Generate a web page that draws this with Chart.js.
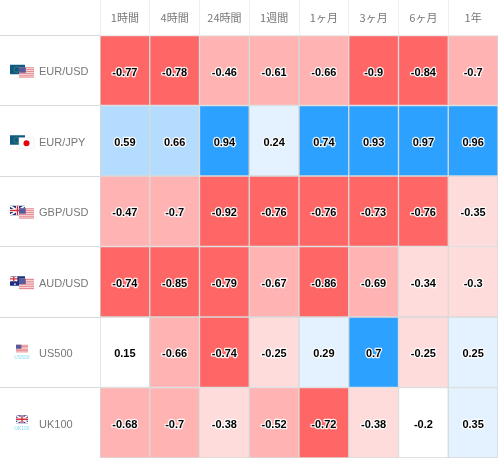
<!DOCTYPE html>
<html>
<head>
<meta charset="utf-8">
<script src="https://cdn.jsdelivr.net/npm/chart.js@4/dist/chart.umd.min.js"></script>
<style>
html,body{margin:0;padding:0;background:#fff;overflow:hidden;}
canvas{display:block;}
</style>
</head>
<body>
<canvas id="heat" width="498" height="458"></canvas>
<script>
const periods = ['1時間', '4時間', '24時間', '1週間', '1ヶ月', '3ヶ月', '6ヶ月', '1年'];
const pairs = ['EUR/USD', 'EUR/JPY', 'GBP/USD', 'AUD/USD', 'US500', 'UK100'];

const eurUsd = [-0.77, -0.78, -0.46, -0.61, -0.66, -0.9, -0.84, -0.7];
const eurJpy = [0.59, 0.66, 0.94, 0.24, 0.74, 0.93, 0.97, 0.96];
const gbpUsd = [-0.47, -0.7, -0.92, -0.76, -0.76, -0.73, -0.76, -0.35];
const audUsd = [-0.74, -0.85, -0.79, -0.67, -0.86, -0.69, -0.34, -0.3];
const us500 = [0.15, -0.66, -0.74, -0.25, 0.29, 0.7, -0.25, 0.25];
const uk100 = [-0.68, -0.7, -0.38, -0.52, -0.72, -0.38, -0.2, 0.35];

const rows = [eurUsd, eurJpy, gbpUsd, audUsd, us500, uk100];

function cellColor(v) {
  if (v >= 0.7) return '#2da1ff';
  if (v >= 0.4) return '#b3dcff';
  if (v > 0.2) return '#e3f2fe';
  if (v >= -0.2) return '#ffffff';
  if (v > -0.4) return '#ffdcdc';
  if (v >= -0.7) return '#ffb3b3';
  return '#ff6666';
}

// little flags in the left gutter, drawn around the row centre
function usFlag(c, x, y, w, h) {
  c.fillStyle = '#fff';
  c.fillRect(x, y, w, h);
  c.fillStyle = '#e58a8f';
  for (let i = 0; i < 6; i++) c.fillRect(x, y + i * h / 6, w, h / 12 + 0.3);
  c.fillStyle = '#5a5a9a';
  c.fillRect(x, y, w * 0.45, h * 0.5);
}
function euFlag(c, x, y, w, h) {
  c.fillStyle = '#0f5a85';
  c.fillRect(x, y, w, h);
  c.strokeStyle = '#4d8a55';
  c.lineWidth = 0.7;
  c.beginPath();
  c.arc(x + w * 0.45, y + h * 0.5, h * 0.3, 0, Math.PI * 2);
  c.stroke();
}
function jpFlag(c, x, y, w, h) {
  c.fillStyle = '#fff';
  c.fillRect(x, y, w, h);
  c.strokeStyle = '#e8e8e8';
  c.lineWidth = 0.5;
  c.strokeRect(x, y, w, h);
  c.fillStyle = '#e8000c';
  c.beginPath();
  c.arc(x + w / 2, y + h / 2, 3, 0, Math.PI * 2);
  c.fill();
}
function ukFlag(c, x, y, w, h) {
  c.fillStyle = '#2a3580';
  c.fillRect(x, y, w, h);
  c.save();
  c.beginPath();
  c.rect(x, y, w, h);
  c.clip();
  c.strokeStyle = '#fff';
  c.lineWidth = 1.6;
  c.beginPath();
  c.moveTo(x, y); c.lineTo(x + w, y + h);
  c.moveTo(x + w, y); c.lineTo(x, y + h);
  c.stroke();
  c.lineWidth = 3;
  c.beginPath();
  c.moveTo(x + w / 2, y); c.lineTo(x + w / 2, y + h);
  c.moveTo(x, y + h / 2); c.lineTo(x + w, y + h / 2);
  c.stroke();
  c.strokeStyle = '#d8303a';
  c.lineWidth = 1.4;
  c.stroke();
  c.restore();
}
function auFlag(c, x, y, w, h) {
  c.fillStyle = '#1c2f7c';
  c.fillRect(x, y, w, h);
  ukFlag(c, x, y, w * 0.5, h * 0.55);
  c.fillStyle = '#fff';
  c.fillRect(x + w * 0.7, y + h * 0.3, 1, 1);
  c.fillRect(x + w * 0.8, y + h * 0.6, 1, 1);
  c.fillRect(x + w * 0.28, y + h * 0.75, 1.5, 1.5);
}

const flagDraw = [
  [euFlag, usFlag],
  [euFlag, jpFlag],
  [ukFlag, usFlag],
  [auFlag, usFlag],
  [usFlag, null],
  [ukFlag, null]
];

const extras = {
  id: 'extras',
  afterDatasetsDraw(chart) {
    const c = chart.ctx;
    // value labels with a white halo
    c.save();
    c.font = 'bold 11px "Liberation Sans", Arial, sans-serif';
    c.textAlign = 'center';
    c.textBaseline = 'middle';
    c.lineJoin = 'round';
    rows.forEach((row, r) => {
      const bars = chart.getDatasetMeta(r).data;
      row.forEach((v, i) => {
        const mid = (bars[i].y + bars[i].base) / 2 + 2;
        c.strokeStyle = 'rgba(255,255,255,0.9)';
        c.lineWidth = 2.5;
        c.strokeText(String(v), bars[i].x, mid);
        c.fillStyle = '#000';
        c.fillText(String(v), bars[i].x, mid);
      });
    });
    c.restore();
  },
  afterDraw(chart) {
    const c = chart.ctx;
    const yScale = chart.scales.y;
    c.save();
    flagDraw.forEach((f, r) => {
      const mid = yScale.getPixelForValue(r + 0.5);
      if (f[1]) {
        f[0](c, 10, mid - 5.5, 15, 9.5);
        f[1](c, 19, mid - 3, 15, 11);
      } else {
        f[0](c, 16, mid - 7.5, 12, 8);
        c.fillStyle = '#7fdcf5';
        c.font = '5px "Liberation Sans", Arial, sans-serif';
        c.textAlign = 'center';
        c.textBaseline = 'middle';
        c.fillText(pairs[r], 22, mid + 5.5);
      }
    });
    c.restore();
  }
};

const datasets = rows.map((row, r) => ({
  label: pairs[r],
  data: row.map(() => [r, r + 1]),
  backgroundColor: row.map(cellColor),
  borderColor: '#d9d9d9',
  borderWidth: 1,
  borderSkipped: false,
  barPercentage: 1,
  categoryPercentage: 1,
  grouped: false
}));

new Chart(document.getElementById('heat').getContext('2d'), {
  type: 'bar',
  data: { labels: periods, datasets: datasets },
  plugins: [extras],
  options: {
    responsive: false,
    animation: false,
    layout: { padding: { left: 39, right: 0, top: 0, bottom: 0 } },
    plugins: { legend: { display: false }, tooltip: { enabled: false }, title: { display: false } },
    scales: {
      x: {
        position: 'top',
        afterFit(scale) {
          scale.height = 35;
          scale.paddingLeft = 0;
          scale.paddingRight = 0;
        },
        border: { display: false },
        grid: { drawOnChartArea: false, tickColor: '#eeeeee', tickLength: 35, tickWidth: 1 },
        ticks: {
          color: '#777777',
          font: { family: '"Noto Sans CJK JP", "Liberation Sans", sans-serif', size: 11 },
          padding: -24,
          maxRotation: 0,
          autoSkip: false
        }
      },
      y: {
        type: 'linear',
        reverse: true,
        min: 0,
        max: pairs.length,
        afterFit(scale) {
          scale.width = 61;
          scale.paddingTop = 0;
          scale.paddingBottom = 0;
        },
        afterBuildTicks(scale) {
          const t = [];
          for (let i = 0; i <= pairs.length * 2; i++) t.push({ value: i / 2 });
          scale.ticks = t;
        },
        border: { display: false },
        grid: {
          drawOnChartArea: false,
          tickLength: 100,
          tickWidth: 1,
          tickColor: (ctx) => (ctx.tick && ctx.tick.value % 1 === 0 ? '#d9d9d9' : 'rgba(0,0,0,0)')
        },
        ticks: {
          color: '#777777',
          font: { family: '"Liberation Sans", Arial, sans-serif', size: 11 },
          crossAlign: 'far',
          labelOffset: 2,
          autoSkip: false,
          callback: (value) => (value % 1 === 0 ? '' : pairs[Math.floor(value)])
        }
      }
    }
  }
});
</script>
</body>
</html>
